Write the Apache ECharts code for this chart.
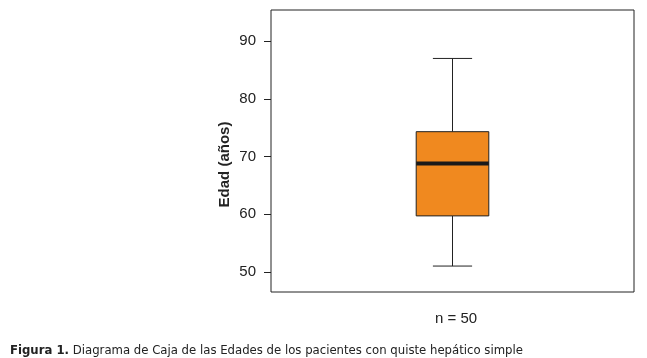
<!DOCTYPE html>
<html><head><meta charset="utf-8">
<script src="https://cdn.jsdelivr.net/npm/echarts@6/dist/echarts.min.js"></script>
<style>html,body{margin:0;padding:0;background:#fff}#c{width:647px;height:358px}</style>
</head><body><div id="c"></div>
<script>
const categories = ['n = 50'];
// [min, Q1, median, Q3, max]
const boxValues = [[51, 59.7, 68.8, 74.3, 87]];
const yTicks = [50, 60, 70, 80, 90];
const yTitle = 'Edad (años)';
const captionBold = 'Figura 1.';
const captionText = ' Diagrama de Caja de las Edades de los pacientes con quiste hepático simple';

const chart = echarts.init(document.getElementById('c'));
chart.setOption({
  animation: false,
  backgroundColor: '#fff',
  grid: {left: 271, right: 13, top: 10, bottom: 66, show: true, borderColor: '#222', borderWidth: 1, containLabel: false},
  xAxis: {
    type: 'category', data: categories,
    axisLine: {show: false}, axisTick: {show: false}, splitLine: {show: false},
    axisLabel: {color: '#222', fontFamily: '"Liberation Sans", Arial', fontSize: 15, margin: 19, padding: [0, 0, 0, 7]}
  },
  yAxis: {
    type: 'value', min: 46.5, max: 95.4, interval: 10,
    axisLine: {show: false}, splitLine: {show: false},
    axisTick: {show: true, length: 7, lineStyle: {color: '#222'}, customValues: yTicks},
    axisLabel: {color: '#222', fontFamily: '"Liberation Sans", Arial', fontSize: 15, margin: 15, customValues: yTicks}
  },
  graphic: [
    {type: 'text', x: 225, y: 164.5, rotation: Math.PI / 2,
      style: {text: yTitle, fill: '#222', font: 'bold 15px "Liberation Sans"', align: 'center', verticalAlign: 'middle'}},
    {type: 'text', x: 10, y: 351,
      style: {text: '{b|' + captionBold + '}{n|' + captionText + '}', verticalAlign: 'middle',
        rich: {b: {fontFamily: '"DejaVu Sans Condensed"', fontWeight: 'bold', fontSize: 13, fill: '#222'},
               n: {fontFamily: '"DejaVu Sans Condensed"', fontSize: 13, fill: '#222'}}}}
  ],
  series: [{
    type: 'custom',
    data: boxValues.map((v, i) => [i].concat(v)),
    encode: {x: 0, y: [1, 2, 3, 4, 5]},
    renderItem: function (params, api) {
      const idx = api.value(0);
      const band = api.size([1, 0])[0];
      const bw = band * 0.2, cw = band * 0.108;
      const pMin = api.coord([idx, api.value(1)]);
      const pQ1 = api.coord([idx, api.value(2)]);
      const pMed = api.coord([idx, api.value(3)]);
      const pQ3 = api.coord([idx, api.value(4)]);
      const pMax = api.coord([idx, api.value(5)]);
      const cx = pMed[0];
      const ls = {stroke: '#222', lineWidth: 1};
      return {type: 'group', children: [
        {type: 'line', shape: {x1: cx, y1: pMax[1], x2: cx, y2: pQ3[1]}, style: ls},
        {type: 'line', shape: {x1: cx, y1: pQ1[1], x2: cx, y2: pMin[1]}, style: ls},
        {type: 'line', shape: {x1: cx - cw / 2, y1: pMax[1], x2: cx + cw / 2, y2: pMax[1]}, style: ls},
        {type: 'line', shape: {x1: cx - cw / 2, y1: pMin[1], x2: cx + cw / 2, y2: pMin[1]}, style: ls},
        {type: 'rect', shape: {x: cx - bw / 2, y: pQ3[1], width: bw, height: pQ1[1] - pQ3[1]},
          style: {fill: '#F0891F', stroke: '#222', lineWidth: 1}},
        {type: 'line', shape: {x1: cx - bw / 2, y1: pMed[1], x2: cx + bw / 2, y2: pMed[1]}, style: {stroke: '#1a1a1a', lineWidth: 4}}
      ]};
    }
  }]
});
</script></body></html>
